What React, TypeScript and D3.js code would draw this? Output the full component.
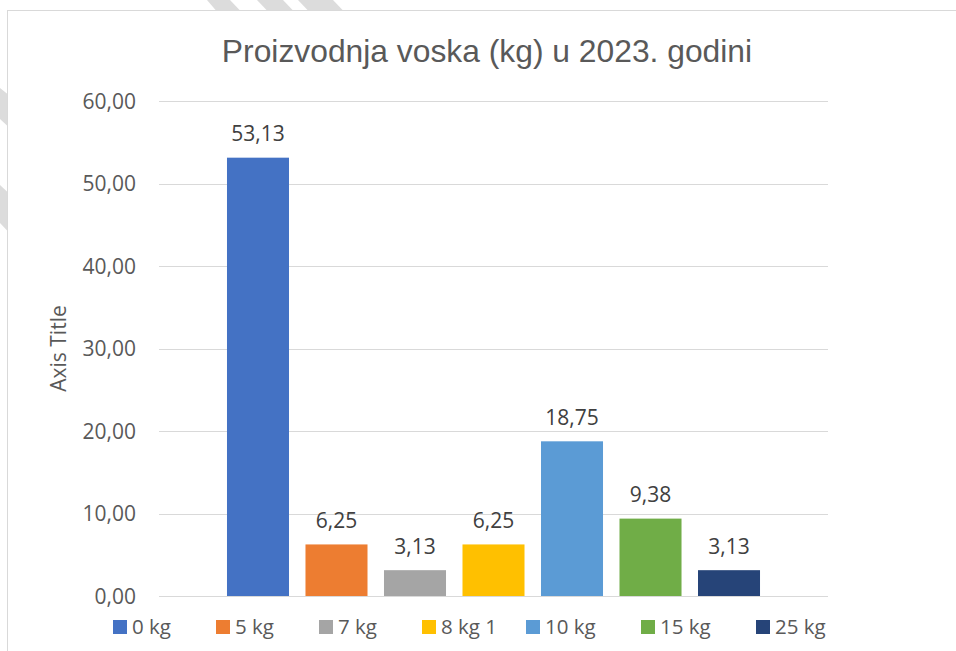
import React from "react";
import * as d3 from "d3";

const title = "Proizvodnja voska (kg) u 2023. godini";
const yAxisTitle = "Axis Title";
const seriesNames = ["0 kg", "5 kg", "7 kg", "8 kg 1", "10 kg", "15 kg", "25 kg"];
const seriesValues = [53.13, 6.25, 3.13, 6.25, 18.75, 9.38, 3.13];
const seriesColors = ["#4472C4", "#ED7D31", "#A5A5A5", "#FFC000", "#5B9BD5", "#70AD47", "#264478"];
const yTicks = [0, 10, 20, 30, 40, 50, 60];

// legend entry left edges (layout)
const legendX = [113, 216, 319, 422, 526, 641, 756];

const W = 956;
const H = 651;
const plot = { left: 159, right: 828, top: 101, bottom: 596 };

const locale = d3.formatLocale({ decimal: ",", thousands: ".", grouping: [3], currency: ["", ""] });
const fmt = locale.format(".2f");

const FONT = "'Open Sans', 'Noto Sans', sans-serif";

export default function App() {
  const y = d3.scaleLinear().domain([0, 60]).range([plot.bottom, plot.top]);
  const x = d3
    .scaleBand<string>()
    .domain(seriesNames)
    .range([plot.left, plot.right])
    .paddingInner(0.21)
    .paddingOuter(0.866);

  const stripes = [
    "M207,0 L230,0 L240,10.5 L216,10.5 Z",
    "M257,0 L283,0 L293,10.5 L267,10.5 Z",
    "M298,0 L333,0 L343,10.5 L308,10.5 Z",
    "M0,88 L7.5,94 L7.5,126 L0,119 Z",
    "M0,185 L7.5,192 L7.5,231 L0,223 Z",
  ];

  return (
    <svg
      width={W}
      height={H}
      style={{ position: "absolute", left: 0, top: 0, display: "block", background: "#fff" }}
    >
      {stripes.map((d, i) => (
        <path key={i} d={d} fill="#DCDCDC" />
      ))}
      <rect x={7.5} y={10.5} width={W + 10} height={H + 10} fill="#fff" stroke="#D9D9D9" strokeWidth={1} />

      <text
        x={487}
        y={62}
        textAnchor="middle"
        fontFamily="'Liberation Sans', Arial, sans-serif"
        fontSize={31.8}
        fill="#595959"
      >
        {title}
      </text>

      {yTicks.map((t) => (
        <g key={t}>
          <line
            x1={plot.left}
            x2={plot.right}
            y1={Math.round(y(t)) + 0.5}
            y2={Math.round(y(t)) + 0.5}
            stroke="#D9D9D9"
            strokeWidth={1.2}
          />
          <text
            x={136}
            y={y(t)}
            dy="0.36em"
            textAnchor="end"
            fontFamily={FONT}
            fontSize={21}
            fill="#595959"
          >
            {fmt(t)}
          </text>
        </g>
      ))}

      <text
        transform={`translate(${66},${(plot.top + plot.bottom) / 2}) rotate(-90)`}
        textAnchor="middle"
        fontFamily={FONT}
        fontSize={21}
        fill="#595959"
      >
        {yAxisTitle}
      </text>

      {seriesNames.map((s, i) => {
        const v = seriesValues[i];
        const bx = x(s) as number;
        const top = y(v);
        return (
          <g key={s}>
            <rect x={bx} y={top} width={x.bandwidth()} height={y(0) - top} fill={seriesColors[i]} />
            <text
              x={bx + x.bandwidth() / 2}
              y={top - 16.5}
              textAnchor="middle"
              fontFamily={FONT}
              fontSize={21}
              fill="#404040"
            >
              {fmt(v)}
            </text>
          </g>
        );
      })}

      {seriesNames.map((s, i) => (
        <g key={s} transform={`translate(${legendX[i]},620)`}>
          <rect x={0} y={0} width={14} height={14} fill={seriesColors[i]} />
          <text x={19} y={14} fontFamily={FONT} fontSize={20.5} fill="#595959">
            {s}
          </text>
        </g>
      ))}
    </svg>
  );
}
